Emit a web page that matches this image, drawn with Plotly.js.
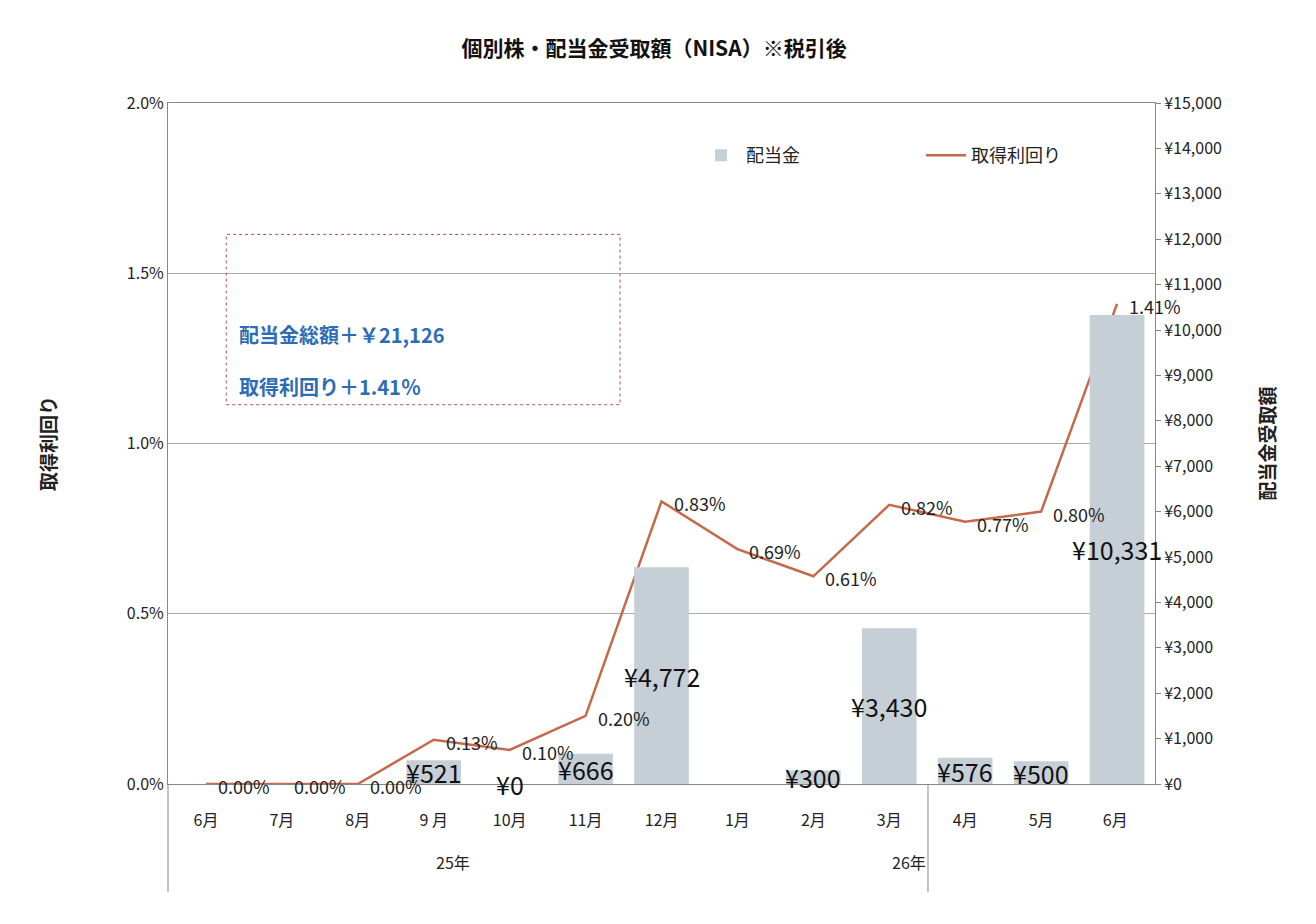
<!DOCTYPE html>
<html>
<head>
<meta charset="utf-8">
<script src="https://cdn.plot.ly/plotly-3.0.1.min.js"></script>
<style>body{margin:0;background:#fff}#chart{width:1316px;height:924px}</style>
</head>
<body>
<div id="chart"></div>
<script>
const months = ['6月', '7月', '8月', '9 月', '10月', '11月', '12月', '1月', '2月', '3月', '4月', '5月', '6月 ']
const dividends = [0, 0, 0, 521, 0, 666, 4772, 0, 300, 3430, 576, 500, 10331]
const yieldPct = [0, 0, 0, 0.13, 0.10, 0.20, 0.83, 0.69, 0.61, 0.82, 0.77, 0.80, 1.41]
const barLabels = ['', '', '', '¥521', '¥0', '¥666', '¥4,772', '', '¥300', '¥3,430', '¥576', '¥500', '¥10,331']
const yearLabels = ['25年', '26年']

const font = '"Noto Sans CJK JP", "Noto Sans", sans-serif'
const idx = months.map((_, i) => i)

const data = [
  {
    type: 'bar', name: '配当金', x: idx, y: dividends, yaxis: 'y2',
    marker: { color: '#c6cfd5' }, width: 0.72,
  },
  {
    type: 'scatter', mode: 'lines', name: '取得利回り', x: idx, y: yieldPct.map(v => v / 100),
    line: { color: '#c5694b', width: 2.5 }, cliponaxis: false,
  },
]

const annotations = []
yieldPct.forEach((v, i) => annotations.push({
  x: i, y: v / 100, xref: 'x', yref: 'y', text: v.toFixed(2) + '%',
  showarrow: false, xanchor: 'left', xshift: 10, yshift: -2,
  font: { size: 18, color: '#222' },
}))
barLabels.forEach((t, i) => { if (t) annotations.push({
  x: i, y: dividends[i] / 2, xref: 'x', yref: 'y2', text: t,
  showarrow: false, font: { size: 25, color: '#111' },
}) })
annotations.push(
  { x: 0.07, y: 0.685, xref: 'paper', yref: 'paper', xanchor: 'left', showarrow: false, align: 'left',
    text: '<b>配当金総額＋￥21,126</b><br><br><b>取得利回り＋1.41％</b>', font: { size: 20, color: '#2e6db5' } },
  { x: 0.27, y: -0.135, xref: 'paper', yref: 'paper', showarrow: false, text: yearLabels[0], font: { size: 16, color: '#222' } },
  { x: 0.77, y: -0.135, xref: 'paper', yref: 'paper', showarrow: false, text: yearLabels[1], font: { size: 16, color: '#222' } },
)

const layout = {
  width: 1316, height: 924,
  font: { family: font, size: 16, color: '#222' },
  paper_bgcolor: '#fff', plot_bgcolor: '#fff',
  margin: { l: 168, r: 161, t: 103, b: 140 },
  title: { text: '<b>個別株・配当金受取額（NISA）※税引後</b>', x: 0.497, y: 0.955, font: { size: 21, color: '#111' } },
  showlegend: true,
  legend: { orientation: 'h', x: 0.535, y: 0.95, xanchor: 'left', font: { size: 18 }, bgcolor: 'rgba(0,0,0,0)',
    itemwidth: 40, entrywidth: 170 },
  xaxis: {
    tickvals: idx, ticktext: months, range: [-0.5, 12.5], showgrid: false,
    showline: true, linecolor: '#888', mirror: true, ticks: '', ticklabelstandoff: 22, tickfont: { size: 16 },
    zeroline: false,
  },
  yaxis: {
    range: [0, 0.02], dtick: 0.005, tickformat: '.1%', gridcolor: '#aaa',
    showline: true, linecolor: '#888', zeroline: false, tickfont: { size: 16 },
    title: { text: '<b>取得利回り</b>', standoff: 65, font: { size: 19 } },
  },
  yaxis2: {
    overlaying: 'y', side: 'right', range: [0, 15000], dtick: 1000, tickprefix: '¥', tickformat: ',d',
    showgrid: false, showline: true, linecolor: '#888', ticks: 'outside', ticklen: 5, tickcolor: '#888',
    tickfont: { size: 16 }, zeroline: false,
    title: { text: '<b>配当金受取額</b>', standoff: 40, font: { size: 19 } },
  },
  shapes: [
    { type: 'rect', xref: 'paper', yref: 'paper', x0: 0.059, x1: 0.458, y0: 0.557, y1: 0.807,
      line: { color: '#c0504d', width: 1, dash: 'dot' } },
    { type: 'line', xref: 'paper', yref: 'paper', x0: 0, x1: 0, y0: 0, y1: -0.159, line: { color: '#888', width: 1 } },
    { type: 'line', xref: 'paper', yref: 'paper', x0: 0.77, x1: 0.77, y0: 0, y1: -0.159, line: { color: '#888', width: 1 } },
  ],
  annotations,
}

Plotly.newPlot('chart', data, layout, { displayModeBar: false, displaylogo: false })
</script>
</body>
</html>
